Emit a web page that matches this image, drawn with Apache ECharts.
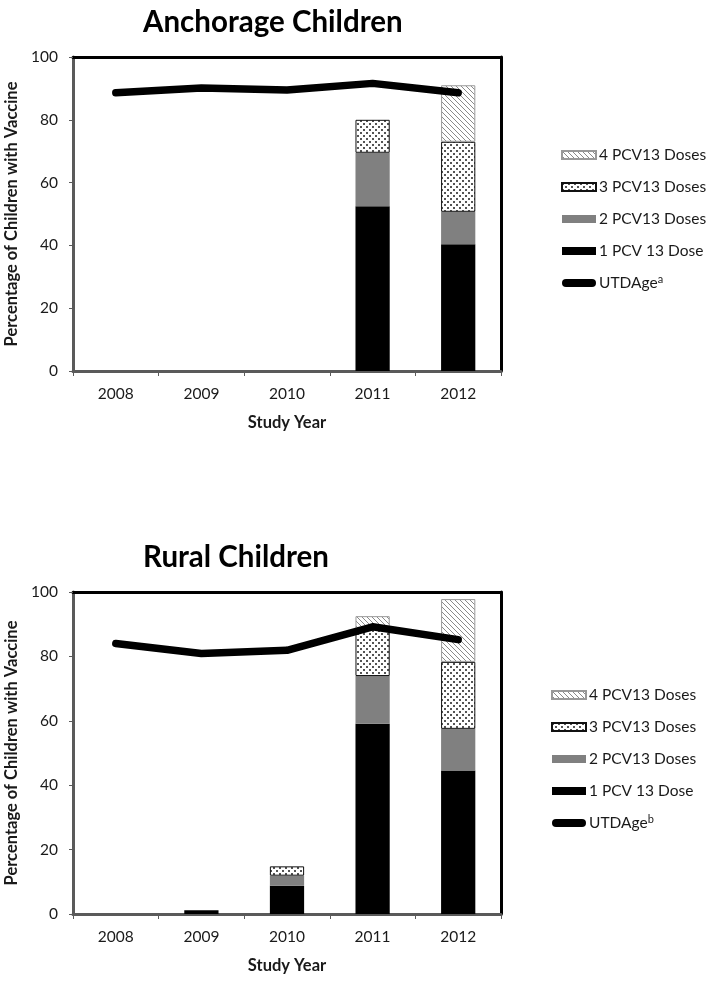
<!DOCTYPE html>
<html><head><meta charset="utf-8">
<script src="https://cdn.jsdelivr.net/npm/echarts@6/dist/echarts.min.js"></script>
<style>html,body{margin:0;padding:0;background:#fff}#c{width:714px;height:982px}</style>
</head><body><div id="c"></div>
<script>
// ---- data ----
const years = ['2008', '2009', '2010', '2011', '2012'];
const yTicks = [0, 20, 40, 60, 80, 100];
const seriesNames = ['1 PCV 13 Dose', '2 PCV13 Doses', '3 PCV13 Doses', '4 PCV13 Doses'];
// Anchorage children
const anc1 = [null, null, null, 52.5, 40.4];
const anc2 = [null, null, null, 17.0, 10.3];
const anc3 = [null, null, null, 10.5, 22.3];
const anc4 = [null, null, null, null, 18.0];
const ancUTD = [88.6, 90.1, 89.5, 91.6, 88.6];
// Rural children
const rur1 = [null, 1.2, 8.8, 59.1, 44.6];
const rur2 = [null, null, 3.1, 14.8, 12.9];
const rur3 = [null, null, 2.9, 14.6, 20.8];
const rur4 = [null, null, null, 4.0, 19.5];
const rurUTD = [84.0, 80.9, 81.9, 89.2, 85.2];

// ---- patterns ----
function hatchPattern() {
  const c = document.createElement('canvas'); c.width = 5; c.height = 5;
  const g = c.getContext('2d');
  g.fillStyle = '#fff'; g.fillRect(0, 0, 5, 5);
  g.strokeStyle = '#8a8a8a'; g.lineWidth = 1;
  g.beginPath();
  g.moveTo(-1, -1); g.lineTo(6, 6);
  g.moveTo(-1, 4); g.lineTo(1, 6);
  g.moveTo(4, -1); g.lineTo(6, 1);
  g.stroke();
  return c;
}
function dotPattern() {
  const c = document.createElement('canvas'); c.width = 6; c.height = 6;
  const g = c.getContext('2d');
  g.fillStyle = '#fff'; g.fillRect(0, 0, 6, 6);
  g.fillStyle = '#555';
  g.fillRect(0, 0, 2, 2); g.fillRect(3, 3, 2, 2);
  return c;
}
const hatch = { image: hatchPattern(), repeat: 'repeat' };
const dots = { image: dotPattern(), repeat: 'repeat' };

const FONT = 'Lato, sans-serif';
const axisGray = '#5a5a5a';
const txt = '#1a1a1a';
const FS = 15.5;
const NFS = 16.5;

const barStyles = [
  { color: '#000' },
  { color: '#808080' },
  { color: dots, borderColor: '#111', borderWidth: 1 },
  { color: hatch, borderColor: '#999', borderWidth: 1 }
];

function mainAxes(gridIndex) {
  return {
    x: [{
      type: 'category', gridIndex, data: years, position: 'bottom',
      axisLine: { onZero: false, lineStyle: { color: axisGray, width: 3 } },
      axisTick: { show: true, length: 5, lineStyle: { color: axisGray, width: 1 } },
      axisLabel: { color: txt, fontSize: FS, fontFamily: FONT, margin: 15 },
      name: 'Study Year', nameLocation: 'middle', nameGap: 43,
      nameTextStyle: { color: txt, fontSize: NFS, fontWeight: 'bold', fontFamily: FONT }
    }, {
      type: 'category', gridIndex, data: years, position: 'top',
      axisLine: { show: true, onZero: false, lineStyle: { color: '#000', width: 3 } },
      axisTick: { show: false }, axisLabel: { show: false }
    }],
    y: [{
      type: 'value', gridIndex, min: 0, max: 100, interval: 20, position: 'left',
      axisLine: { show: true, onZero: false, lineStyle: { color: axisGray, width: 3 } },
      axisTick: { show: true, length: 4, lineStyle: { color: axisGray, width: 1 } },
      splitLine: { show: false },
      axisLabel: { color: txt, fontSize: FS, fontFamily: FONT, margin: 15,
        formatter: v => yTicks.includes(v) ? String(v) : '' },
      name: 'Percentage of Children with Vaccine', nameLocation: 'middle', nameGap: 47,
      nameTextStyle: { color: txt, fontSize: NFS, fontWeight: 'bold', fontFamily: FONT }
    }, {
      type: 'value', gridIndex, min: 0, max: 100, interval: 20, position: 'right',
      axisLine: { show: true, onZero: false, lineStyle: { color: '#000', width: 3 } },
      axisTick: { show: false }, axisLabel: { show: false }, splitLine: { show: false }
    }]
  };
}
const a0 = mainAxes(0), a1 = mainAxes(1);

function bars(vals, xi, yi, stack) {
  return vals.map((d, i) => ({
    name: seriesNames[i], type: 'bar', stack, xAxisIndex: xi, yAxisIndex: yi,
    barWidth: '40%', data: d, itemStyle: barStyles[i], emphasis: { disabled: true },
    animation: false
  }));
}
function line(name, d, xi, yi) {
  return {
    name, type: 'line', data: d, xAxisIndex: xi, yAxisIndex: yi, z: 5,
    showSymbol: false, symbol: 'none',
    lineStyle: { color: '#000', width: 7.5, cap: 'round', join: 'round' },
    itemStyle: { color: '#000' }, animation: false
  };
}
const pill = 'path://M4,0 L30,0 A4,4 0 0 1 30,8 L4,8 A4,4 0 0 1 4,0 Z';
function legend(top, left, utdName, sup) {
  return {
    orient: 'vertical', top, left, padding: 0, itemWidth: 34, itemHeight: 8, itemGap: 12,
    selectedMode: false,
    textStyle: { color: txt, fontSize: FS, fontFamily: FONT, lineHeight: 20, padding: [0, 0, 0, -2],
      rich: { n: { fontSize: FS, fontFamily: FONT, color: txt },
              s: { fontSize: 11, fontFamily: FONT, color: txt, padding: [0, 0, 8, 0] } } },
    formatter: n => n === utdName ? '{n|UTDAge}{s|' + sup + '}' : n,
    data: [
      { name: '4 PCV13 Doses', icon: 'rect' },
      { name: '3 PCV13 Doses', icon: 'rect' },
      { name: '2 PCV13 Doses', icon: 'rect' },
      { name: '1 PCV 13 Dose', icon: 'rect' },
      { name: utdName, icon: pill, itemStyle: { color: '#000' } }
    ]
  };
}

const option = {
  backgroundColor: '#fff',
  animation: false,
  title: [
    { text: 'Anchorage Children', left: 143, top: 7, padding: 0,
      textStyle: { fontSize: 29.5, fontWeight: 'bold', color: '#000', fontFamily: FONT } },
    { text: 'Rural Children', left: 143, top: 542, padding: 0,
      textStyle: { fontSize: 29.5, fontWeight: 'bold', color: '#000', fontFamily: FONT } }
  ],
  grid: [
    { left: 73, top: 57, width: 428, height: 314, outerBoundsMode: 'none', containLabel: false },
    { left: 73, top: 592, width: 428, height: 322, outerBoundsMode: 'none', containLabel: false }
  ],
  xAxis: [a0.x[0], a0.x[1], a1.x[0], a1.x[1]],
  yAxis: [a0.y[0], a0.y[1], a1.y[0], a1.y[1]],
  legend: [legend(145, 561, 'UTDAge_a', 'a'), legend(685, 551, 'UTDAge_b', 'b')],
  series: [
    ...bars([anc1, anc2, anc3, anc4], 0, 0, 'anc'),
    line('UTDAge_a', ancUTD, 0, 0),
    ...bars([rur1, rur2, rur3, rur4], 2, 2, 'rur'),
    line('UTDAge_b', rurUTD, 2, 2)
  ]
};
const chart = echarts.init(document.getElementById('c'), null, { renderer: 'canvas' });
chart.setOption(option);
</script></body></html>
